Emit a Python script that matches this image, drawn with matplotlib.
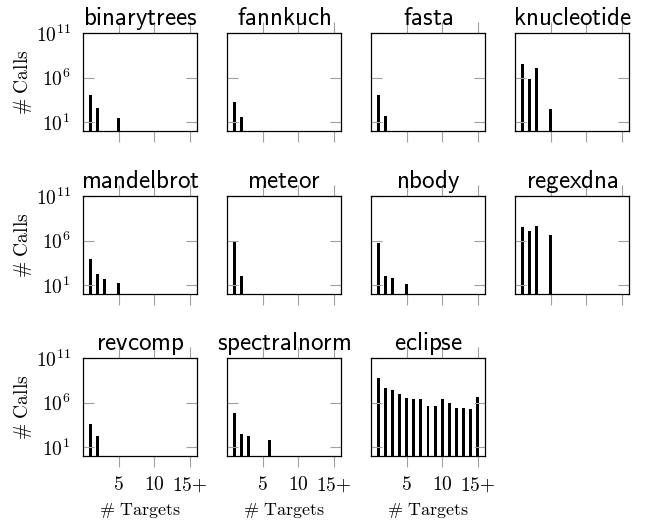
import matplotlib
matplotlib.use('Agg')
import matplotlib.pyplot as plt
from matplotlib.ticker import NullLocator

plt.rcParams['mathtext.fontset'] = 'cm'

# number of call sites (y) per number of distinct targets (x)
names = ['binarytrees', 'fannkuch', 'fasta', 'knucleotide',
         'mandelbrot', 'meteor', 'nbody', 'regexdna',
         'revcomp', 'spectralnorm', 'eclipse']

binarytrees_x = [1, 2, 5]
binarytrees_y = [11500, 370, 28]
fannkuch_x = [1, 2]
fannkuch_y = [1700, 36]
fasta_x = [1, 2]
fasta_y = [10500, 47]
knucleotide_x = [1, 2, 3, 5]
knucleotide_y = [3.1e7, 7.1e5, 1.2e7, 310]
mandelbrot_x = [1, 2, 3, 5]
mandelbrot_y = [8900, 155, 51, 17]
meteor_x = [1, 2]
meteor_y = [1.0e6, 110]
nbody_x = [1, 2, 3, 5]
nbody_y = [5.5e5, 110, 56, 14]
regexdna_x = [1, 2, 3, 5]
regexdna_y = [3.1e7, 1.3e7, 4.0e7, 4.0e6]
revcomp_x = [1, 2]
revcomp_y = [3700, 190]
spectralnorm_x = [1, 2, 3, 6]
spectralnorm_y = [6.5e4, 290, 190, 66]
eclipse_x = list(range(1, 16))
eclipse_y = [5.8e8, 4.8e7, 2.9e7, 9.3e6, 3.3e6, 2.6e6, 2.8e6, 4.3e5,
             4.3e5, 2.2e6, 9.1e5, 2.3e5, 2.3e5, 2.1e5, 4.0e6]

data = {
    'binarytrees': (binarytrees_x, binarytrees_y),
    'fannkuch': (fannkuch_x, fannkuch_y),
    'fasta': (fasta_x, fasta_y),
    'knucleotide': (knucleotide_x, knucleotide_y),
    'mandelbrot': (mandelbrot_x, mandelbrot_y),
    'meteor': (meteor_x, meteor_y),
    'nbody': (nbody_x, nbody_y),
    'regexdna': (regexdna_x, regexdna_y),
    'revcomp': (revcomp_x, revcomp_y),
    'spectralnorm': (spectralnorm_x, spectralnorm_y),
    'eclipse': (eclipse_x, eclipse_y),
}

xticks = [5, 10, 15]
xticklabels = [r'$5$', r'$10$', r'$15{+}$']
yticks = [1e1, 1e6, 1e11]
yticklabels = [r'$10^{1}$', r'$10^{6}$', r'$10^{11}$']

W, H = 647, 525
fig = plt.figure(figsize=(W / 100, H / 100), dpi=100)

lefts = [83, 227, 371, 515]
tops = [33, 196, 358]
aw, ah = 114, 98

for i, name in enumerate(names):
    row, col = divmod(i, 4)
    l = lefts[col]
    t = tops[row]
    ax = fig.add_axes([l / W, (H - t - ah) / H, aw / W, ah / H])
    xs, ys = data[name]
    ax.bar(xs, ys, width=0.42, color='black')
    ax.set_yscale('log')
    ax.set_ylim(1, 1e11)
    ax.set_xlim(0, 16)
    ax.yaxis.set_minor_locator(NullLocator())
    ax.set_xticks(xticks)
    ax.set_yticks(yticks)
    ax.tick_params(axis='x', direction='out', top=True, bottom=True,
                   length=8, width=0.8, color='#a0a0a0', pad=6,
                   labelsize=14)
    ax.tick_params(axis='y', direction='in', left=True, right=True,
                   length=8, width=0.8, color='#a0a0a0', pad=9,
                   labelsize=14)
    for s in ax.spines.values():
        s.set_linewidth(0.9)

    # bottom row and eclipse carry x labels
    if row == 2:
        ax.set_xticklabels(xticklabels)
        ax.set_xlabel(r'$\#\ \mathrm{Targets}$', fontsize=13, labelpad=5)
    else:
        ax.set_xticklabels([])
    if col == 0:
        ax.set_yticklabels(yticklabels)
        ax.set_ylabel(r'$\#\ \mathrm{Calls}$', fontsize=14, labelpad=1)
    else:
        ax.set_yticklabels([])

    ax.annotate(r'$\mathsf{%s}$' % name, xy=(0.5, 1), xycoords='axes fraction',
                xytext=(0, 6), textcoords='offset points',
                ha='center', va='baseline', fontsize=18)

fig.savefig('out.png', dpi=100)
